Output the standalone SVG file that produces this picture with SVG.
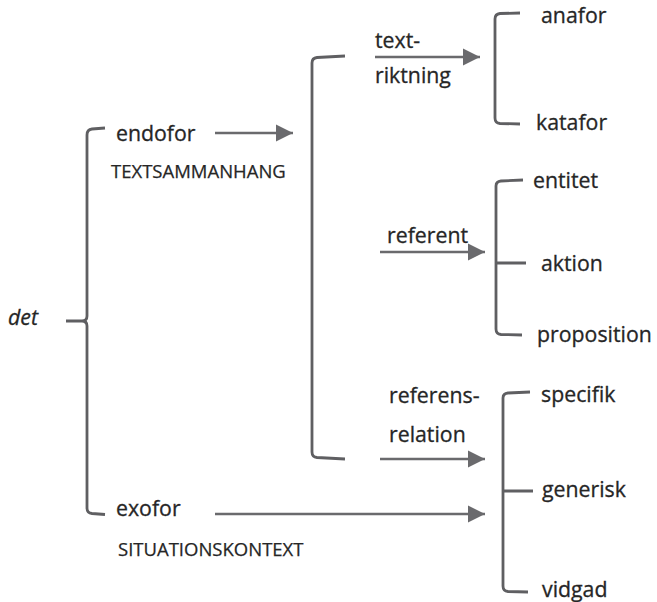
<svg xmlns="http://www.w3.org/2000/svg" width="657" height="602" viewBox="0 0 657 602">
<defs>
<style>
text{font-family:"Open Sans","Noto Sans",sans-serif;fill:#262626;stroke:#262626;stroke-width:0.3;font-size:21.3px}
.cap{font-size:18.5px;stroke-width:0.25}
.it{font-style:italic}
.br{fill:none;stroke:#5f5f62;stroke-width:2.8;stroke-linecap:butt;stroke-linejoin:round}
.ar{fill:none;stroke:#6a6a6d;stroke-width:2.7}
</style>
<marker id="ah" viewBox="0 0 10 10" refX="10" refY="5" markerWidth="6.3" markerHeight="6.3" markerUnits="strokeWidth" orient="auto">
<path d="M0,0 L10,5 L0,10 Z" fill="#6a6a6d" stroke="none"/>
</marker>
</defs>
<rect width="657" height="602" fill="#ffffff"/>

<g id="det"><text x="8" y="325" class="it">det</text></g>
<g id="endofor"><text x="116" y="141">endofor</text><text x="111" y="178" class="cap">TEXTSAMMANHANG</text></g>
<g id="exofor"><text x="116" y="516">exofor</text><text x="118" y="556" class="cap">SITUATIONSKONTEXT</text></g>
<g id="textriktning"><text x="375" y="48">text-</text><text x="375" y="83">riktning</text></g>
<g id="referent"><text x="387" y="243">referent</text></g>
<g id="referensrelation"><text x="389" y="403">referens-</text><text x="389" y="442">relation</text></g>
<g id="anafor"><text x="541" y="23">anafor</text></g>
<g id="katafor"><text x="536" y="130">katafor</text></g>
<g id="entitet"><text x="533" y="188">entitet</text></g>
<g id="aktion"><text x="541" y="271">aktion</text></g>
<g id="proposition"><text x="537" y="342">proposition</text></g>
<g id="specifik"><text x="541" y="402">specifik</text></g>
<g id="generisk"><text x="542" y="497">generisk</text></g>
<g id="vidgad"><text x="542" y="597">vidgad</text></g>

<g id="connectors">
<path class="br" d="M105,128 L92,129 Q87,129.5 87,135 L87,316 Q87,321 82,321 L66,321 M82,321 Q87,321 87,326 L87,508 Q87,513 92,513.5 L105,514.5"/>
<path class="br" d="M345,56 L317,57.5 Q312,58 312,63 L312,452 Q312,457 317,457.5 L345,459"/>
<path class="br" d="M520,13 L500,13.5 Q495,14 495,19 L495,118 Q495,123 500,123.5 L520,124"/>
<path class="br" d="M523,180 L501,181 Q496,181.5 496,186 L496,329 Q496,334 501,334.5 L522,335 M496,263 L526,263"/>
<path class="br" d="M530,392 L508,393 Q503,393.5 503,398 L503,586 Q503,591 508,591.5 L528,592 M503,491 L533,491"/>
<line class="ar" x1="215" y1="133" x2="293" y2="133" marker-end="url(#ah)"/>
<line class="ar" x1="375" y1="57" x2="480" y2="57" marker-end="url(#ah)"/>
<line class="ar" x1="380" y1="252" x2="485" y2="252" marker-end="url(#ah)"/>
<line class="ar" x1="380" y1="459" x2="485" y2="459" marker-end="url(#ah)"/>
<line class="ar" x1="215" y1="514" x2="485" y2="514" marker-end="url(#ah)"/>
</g>
</svg>
